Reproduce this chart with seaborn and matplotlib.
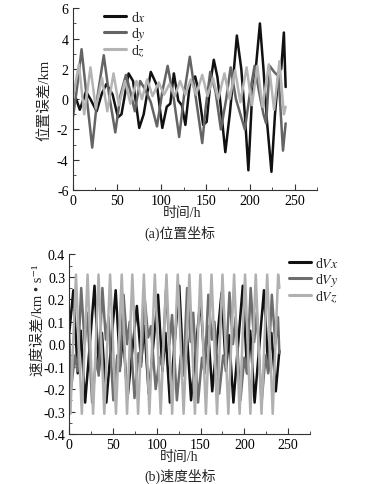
import matplotlib
matplotlib.use("Agg")
import matplotlib.pyplot as plt
import seaborn as sns
import pandas as pd
from matplotlib.ticker import MultipleLocator, FormatStrFormatter

# ---------------- data ----------------
# (a) position error, km
dx_t = [0, 4, 8, 15, 20, 27, 33, 38, 45, 51, 55, 63, 68, 75, 80, 88, 95, 101, 106, 110,
        114, 119, 123, 127, 132, 138, 142, 147, 151, 155, 159, 163, 166, 172, 177, 180,
        185, 190, 194, 198, 202, 206, 211, 215, 219, 224, 228, 232, 235, 238, 240]
dx_v = [-0.4, 0.0, -0.7, 0.5, 0.0, -0.8, 0.4, 1.0, 0.3, -1.2, -1.0, 1.7, 1.2, -1.9, -1.0,
        1.8, 0.9, -1.9, -0.5, -0.3, 1.7, -0.1, -0.4, -1.7, 1.0, 1.5, 0.5, -1.7, -1.5, 1.0,
        2.6, 1.5, 0.0, -3.5, -1.0, 0.8, 4.2, 2.0, -1.0, -4.7, 0.0, 1.8, 5.0, 2.0, -1.5,
        -4.8, -1.0, 1.8, 2.0, 4.4, 0.8]

dy_t = [0, 5, 10, 16, 22, 28, 35, 41, 48, 54, 60, 65, 70, 76, 82, 88, 95, 101, 107, 114,
        120, 126, 132, 139, 146, 150, 155, 161, 167, 173, 178, 184, 189, 194, 200, 205,
        210, 215, 218, 222, 227, 232, 237, 240]
dy_v = [-1.3, 0.8, 3.3, 0.0, -3.2, 0.2, 2.9, 0.3, -2.2, 0.3, 1.6, 0.5, -0.8, 1.2, 0.6,
        -0.2, -1.8, 0.5, 2.2, 0.0, -2.5, 0.5, 2.8, 0.0, -2.9, -0.5, 1.8, 0.5, -2.0, 0.0,
        2.1, 0.0, -1.0, -2.0, 0.5, 2.2, 0.5, -1.0, -1.6, 2.2, 1.8, 1.5, -3.4, -1.6]

dz_t = [0, 7, 13, 20, 26, 33, 39, 46, 52, 59, 65, 72, 78, 84, 90, 97, 103, 109, 115, 121,
        127, 133, 139, 146, 152, 158, 164, 171, 177, 183, 189, 196, 202, 208, 214, 221,
        227, 233, 238, 240]
dz_v = [0.0, 2.3, -1.0, 2.1, -0.6, 1.4, -0.8, 1.7, -0.4, 1.2, -0.3, 1.2, 0.0, 1.3, 0.2,
        1.1, 0.3, 1.0, 0.2, 1.2, 0.3, 1.3, 0.3, 1.6, 0.2, 1.4, 0.0, 1.7, 0.0, 1.9, -0.2,
        2.1, -0.4, 2.2, -0.5, 2.3, -0.7, 2.5, -1.0, -0.5]

# (b) velocity error, km/s
dVx_t = [0, 4.6, 9.6, 13.1, 18.1, 28.8, 33.8, 37.3, 42.3, 53.0, 58.0, 61.5, 66.5, 77.2,
         82.2, 85.7, 90.7, 101.4, 106.4, 109.9, 114.9, 125.6, 130.6, 134.1, 139.1, 149.8,
         154.8, 158.3, 163.3, 174.0, 179.0, 182.5, 187.5, 198.2, 203.2, 206.7, 211.7,
         222.4, 227.4, 230.9, 235.9, 240]
dVx_v = [0.05, 0.24, -0.13, 0.06, -0.26, 0.26, -0.12, 0.05, -0.26, 0.24, -0.10, 0.04,
         -0.24, 0.17, -0.08, 0.08, -0.22, 0.22, -0.12, 0.05, -0.26, 0.26, -0.13, 0.06,
         -0.25, 0.20, -0.10, 0.08, -0.21, 0.23, -0.12, 0.04, -0.26, 0.26, -0.13, 0.06,
         -0.26, 0.24, -0.12, 0.05, -0.21, -0.03]

dVy_t = [0, 2.0, 6.4, 9.4, 13.6, 17.6, 20.6, 26.1, 30.6, 33.6, 37.8, 41.8, 44.8, 50.3,
         54.8, 57.8, 62.0, 66.0, 69.0, 74.5, 79.0, 82.0, 86.2, 90.2, 93.2, 98.7, 103.2,
         106.2, 110.4, 114.4, 117.4, 122.9, 127.4, 130.4, 134.6, 138.6, 141.6, 147.1,
         151.6, 154.6, 158.8, 162.8, 165.8, 171.3, 175.8, 178.8, 183.0, 187.0, 190.0,
         195.5, 200.0, 203.0, 207.2, 211.2, 214.2, 219.7, 224.2, 227.2, 231.4, 235.4,
         238.4, 240]
dVy_v = [0.05, -0.20, -0.05, -0.12,
         0.25, 0.00, 0.14, -0.26, -0.06, -0.14,
         0.25, 0.02, 0.12, -0.25, -0.05, -0.12,
         0.22, 0.00, 0.10, -0.24, -0.04, -0.10,
         0.20, 0.03, 0.08, -0.20, -0.06, -0.10,
         0.24, 0.00, 0.13, -0.25, -0.05, -0.14,
         0.25, 0.01, 0.14, -0.26, -0.06, -0.13,
         0.22, 0.02, 0.10, -0.22, -0.05, -0.10,
         0.23, 0.00, 0.12, -0.25, -0.06, -0.13,
         0.25, 0.01, 0.14, -0.26, -0.05, -0.13,
         0.22, 0.00, 0.12, -0.04]

dVz_t = [0, 1.2, 7.6, 14.3, 20.9, 27.2, 33.4, 40.0, 46.6, 53.3, 59.9, 66.0, 72.0, 78.6,
         85.2, 91.5, 97.7, 104.4, 111.0, 117.5, 123.9, 130.6, 137.2, 143.5, 149.7, 156.1,
         162.5, 168.8, 175.0, 181.7, 188.3, 194.6, 200.8, 206.9, 213.0, 219.6, 226.1,
         232.4, 238.6, 240]
dVz_v = [-0.27, -0.31, 0.31, -0.31, 0.31, -0.31, 0.31, -0.31, 0.31, -0.31, 0.31, -0.31,
         0.31, -0.31, 0.31, -0.31, 0.31, -0.31, 0.31, -0.31, 0.31, -0.31, 0.31, -0.31,
         0.31, -0.31, 0.31, -0.31, 0.31, -0.31, 0.31, -0.31, 0.31, -0.31, 0.31, -0.31,
         0.31, -0.31, 0.31, 0.25]

x_ticks = [0, 50, 100, 150, 200, 250]
pos_labels = ["d$\\mathit{x}$", "d$\\mathit{y}$", "d$\\mathit{z}$"]
vel_labels = ["d$\\mathit{Vx}$", "d$\\mathit{Vy}$", "d$\\mathit{Vz}$"]

# ---------------- style ----------------
sns.set_style("ticks")
plt.rcParams["font.family"] = ["Liberation Serif", "Noto Sans CJK SC", "DejaVu Sans"]
plt.rcParams["mathtext.fontset"] = "stix"
plt.rcParams["axes.unicode_minus"] = False
plt.rcParams["axes.edgecolor"] = "#333333"
plt.rcParams["axes.linewidth"] = 0.8

W, H = 384, 485
fig = plt.figure(figsize=(W / 100, H / 100), dpi=100)
fig.patch.set_facecolor("white")

ax1 = fig.add_axes([72.7 / W, 1 - 191 / H, (316.7 - 72.7) / W, (191 - 9.3) / H])
ax2 = fig.add_axes([69.3 / W, 1 - 435 / H, (310 - 69.3) / W, (435 - 255.3) / H])

c_dark, c_mid, c_light = "#111111", "#646464", "#b4b4b4"
lw = 1.8

df_a = [pd.DataFrame({"t": dx_t, "v": dx_v}),
        pd.DataFrame({"t": dy_t, "v": dy_v}),
        pd.DataFrame({"t": dz_t, "v": dz_v})]
for df, col, lab in zip(df_a, [c_dark, c_mid, c_light], pos_labels):
    sns.lineplot(data=df, x="t", y="v", ax=ax1, color=col, linewidth=lw, label=lab,
                 estimator=None, sort=False)

df_b = [pd.DataFrame({"t": dVx_t, "v": dVx_v}),
        pd.DataFrame({"t": dVy_t, "v": dVy_v}),
        pd.DataFrame({"t": dVz_t, "v": dVz_v})]
for df, col, lab in zip(df_b, [c_dark, "#6e6e6e", "#b0b0b0"], vel_labels):
    sns.lineplot(data=df, x="t", y="v", ax=ax2, color=col, linewidth=lw, label=lab,
                 estimator=None, sort=False)

for ax in (ax1, ax2):
    ax.set_xlim(0, 275)
    ax.set_xticks(x_ticks)
    ax.xaxis.set_minor_locator(MultipleLocator(25))
    ax.spines["top"].set_visible(False)
    ax.spines["right"].set_visible(False)
    ax.tick_params(which="major", direction="in", length=4, width=0.8,
                   labelsize=10, pad=3, colors="#333333", labelcolor="black")
    ax.tick_params(which="minor", direction="in", length=2, width=0.6, colors="#333333")
    ax.set_xlabel("")
    ax.set_ylabel("")
    ax.set_facecolor("white")

ax1.set_ylim(-6, 6)
ax1.set_yticks([-6, -4, -2, 0, 2, 4, 6])
ax1.yaxis.set_minor_locator(MultipleLocator(1))

ax2.set_ylim(-0.4, 0.4)
ax2.yaxis.set_major_locator(MultipleLocator(0.1))
ax2.yaxis.set_minor_locator(MultipleLocator(0.05))
ax2.yaxis.set_major_formatter(FormatStrFormatter("%.1f"))

leg1 = ax1.legend(loc="upper left", bbox_to_anchor=(104 / W, 1 - 11 / H),
                  bbox_transform=fig.transFigure, frameon=False, fontsize=10,
                  handlelength=1.6, handletextpad=0.35, labelspacing=0.05,
                  borderpad=0, borderaxespad=0)
leg2 = ax2.legend(loc="upper left", bbox_to_anchor=(289 / W, 1 - 257 / H),
                  bbox_transform=fig.transFigure, frameon=False, fontsize=10,
                  handlelength=1.6, handletextpad=0.3, labelspacing=0.05,
                  borderpad=0, borderaxespad=0)
for leg in (leg1, leg2):
    for h in leg.get_lines():
        h.set_linewidth(2.2)

# axis titles and captions
fs = 10
fig.text(45 / W, 1 - 100 / H, "位置误差/km", rotation=90, ha="center", va="center", fontsize=fs + 0.5)
fig.text(181.7 / W, 1 - 213 / H, "时间/h", ha="center", va="center", fontsize=fs)
fig.text(180 / W, 1 - 233 / H, "(a)位置坐标", ha="center", va="center", fontsize=fs)

fig.text(37.5 / W, 1 - 320 / H, "速度误差/km • s⁻¹", rotation=90, ha="center",
         va="center", fontsize=fs + 0.5)
fig.text(179 / W, 1 - 458 / H, "时间/h", ha="center", va="center", fontsize=fs)
fig.text(180 / W, 1 - 476.5 / H, "(b)速度坐标", ha="center", va="center", fontsize=fs)

fig.savefig("out.png", dpi=100, facecolor="white")
